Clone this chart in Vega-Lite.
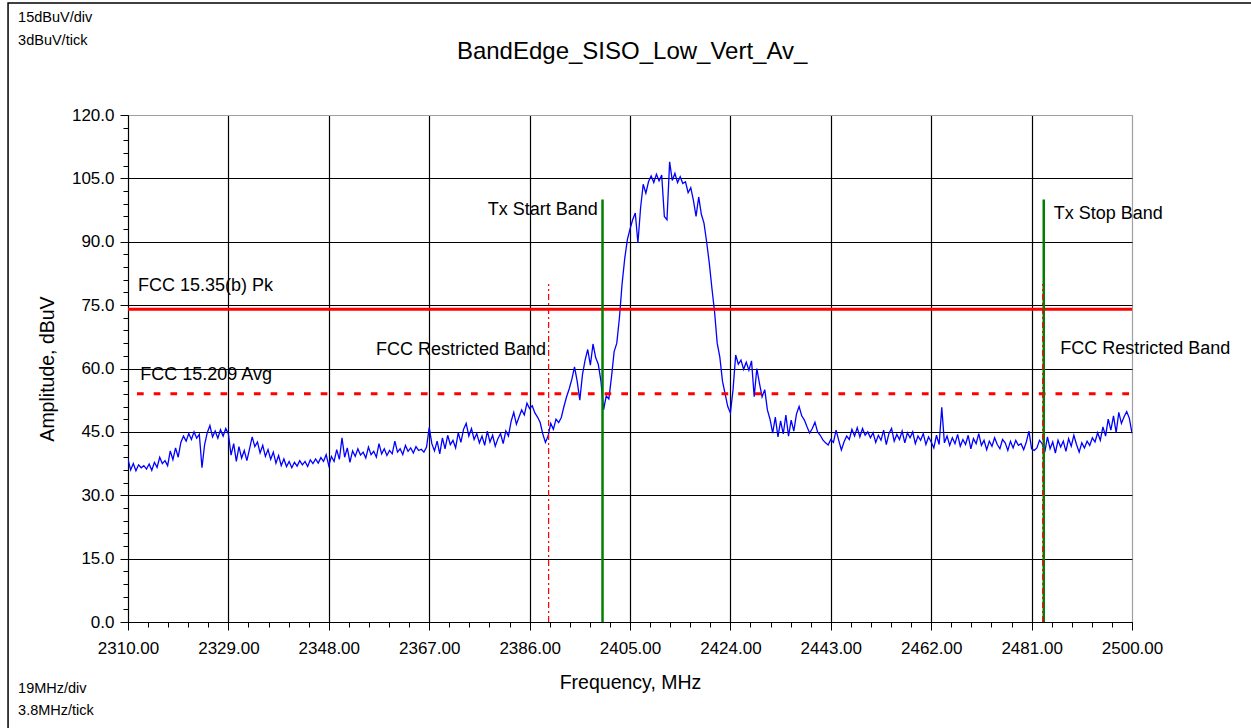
{
  "$schema": "https://vega.github.io/schema/vega-lite/v6.json",
  "width": 1004,
  "height": 507,
  "autosize": {"type": "none"},
  "padding": {"left": 128, "top": 115, "right": 119, "bottom": 106},
  "background": "white",
  "config": {
    "font": "Liberation Sans",
    "view": {"stroke": "#a0a0a0", "strokeWidth": 1}
  },
  "datasets": {
    "trace": [
      {"f":2310.0,"a":38.5},{"f":2310.5,"a":36.0},{"f":2311.0,"a":37.5},{"f":2311.5,"a":35.8},{"f":2312.0,"a":37.2},{"f":2312.5,"a":36.5},{"f":2313.0,"a":37.0},{"f":2313.5,"a":36.2},{"f":2314.0,"a":37.4},{"f":2314.5,"a":35.9},
      {"f":2315.0,"a":37.8},{"f":2315.5,"a":36.6},{"f":2316.0,"a":39.0},{"f":2316.5,"a":37.5},{"f":2317.0,"a":38.2},{"f":2317.5,"a":37.0},{"f":2318.0,"a":40.5},{"f":2318.5,"a":38.4},{"f":2319.0,"a":41.2},{"f":2319.5,"a":39.0},
      {"f":2320.0,"a":42.5},{"f":2320.5,"a":44.0},{"f":2321.0,"a":42.8},{"f":2321.5,"a":44.6},{"f":2322.0,"a":43.2},{"f":2322.5,"a":45.0},{"f":2323.0,"a":43.5},{"f":2323.5,"a":44.4},{"f":2324.0,"a":36.5},{"f":2324.5,"a":42.0},
      {"f":2325.0,"a":44.8},{"f":2325.5,"a":46.5},{"f":2326.0,"a":43.8},{"f":2326.5,"a":45.2},{"f":2327.0,"a":43.5},{"f":2327.5,"a":45.5},{"f":2328.0,"a":44.0},{"f":2328.5,"a":45.8},{"f":2329.0,"a":44.5},{"f":2329.5,"a":39.5},
      {"f":2330.0,"a":42.2},{"f":2330.5,"a":38.0},{"f":2331.0,"a":41.5},{"f":2331.5,"a":38.8},{"f":2332.0,"a":40.6},{"f":2332.5,"a":38.2},{"f":2333.0,"a":41.0},{"f":2333.5,"a":43.8},{"f":2334.0,"a":41.5},{"f":2334.5,"a":42.6},
      {"f":2335.0,"a":40.0},{"f":2335.5,"a":41.8},{"f":2336.0,"a":39.2},{"f":2336.5,"a":40.8},{"f":2337.0,"a":38.5},{"f":2337.5,"a":40.2},{"f":2338.0,"a":37.6},{"f":2338.5,"a":39.4},{"f":2339.0,"a":37.0},{"f":2339.5,"a":38.6},
      {"f":2340.0,"a":36.8},{"f":2340.5,"a":38.0},{"f":2341.0,"a":36.5},{"f":2341.5,"a":37.8},{"f":2342.0,"a":36.9},{"f":2342.5,"a":38.2},{"f":2343.0,"a":37.2},{"f":2343.5,"a":38.0},{"f":2344.0,"a":36.8},{"f":2344.5,"a":38.4},
      {"f":2345.0,"a":37.5},{"f":2345.5,"a":38.6},{"f":2346.0,"a":37.6},{"f":2346.5,"a":38.9},{"f":2347.0,"a":38.0},{"f":2347.5,"a":39.6},{"f":2348.0,"a":37.0},{"f":2348.5,"a":39.2},{"f":2349.0,"a":38.0},{"f":2349.5,"a":40.8},
      {"f":2350.0,"a":38.5},{"f":2350.5,"a":43.6},{"f":2351.0,"a":39.0},{"f":2351.5,"a":41.2},{"f":2352.0,"a":37.8},{"f":2352.5,"a":40.5},{"f":2353.0,"a":39.2},{"f":2353.5,"a":41.0},{"f":2354.0,"a":39.5},{"f":2354.5,"a":40.2},
      {"f":2355.0,"a":38.8},{"f":2355.5,"a":41.4},{"f":2356.0,"a":39.6},{"f":2356.5,"a":40.4},{"f":2357.0,"a":39.0},{"f":2357.5,"a":42.2},{"f":2358.0,"a":39.8},{"f":2358.5,"a":41.0},{"f":2359.0,"a":39.4},{"f":2359.5,"a":40.6},
      {"f":2360.0,"a":39.8},{"f":2360.5,"a":42.8},{"f":2361.0,"a":40.2},{"f":2361.5,"a":41.0},{"f":2362.0,"a":39.6},{"f":2362.5,"a":41.8},{"f":2363.0,"a":40.4},{"f":2363.5,"a":41.2},{"f":2364.0,"a":40.0},{"f":2364.5,"a":41.5},
      {"f":2365.0,"a":40.6},{"f":2365.5,"a":40.9},{"f":2366.0,"a":40.2},{"f":2366.5,"a":41.4},{"f":2367.0,"a":46.0},{"f":2367.5,"a":42.2},{"f":2368.0,"a":40.5},{"f":2368.5,"a":42.8},{"f":2369.0,"a":39.8},{"f":2369.5,"a":43.6},
      {"f":2370.0,"a":41.0},{"f":2370.5,"a":44.2},{"f":2371.0,"a":42.0},{"f":2371.5,"a":43.0},{"f":2372.0,"a":41.2},{"f":2372.5,"a":44.8},{"f":2373.0,"a":42.5},{"f":2373.5,"a":45.6},{"f":2374.0,"a":47.0},{"f":2374.5,"a":44.0},
      {"f":2375.0,"a":45.8},{"f":2375.5,"a":43.2},{"f":2376.0,"a":44.6},{"f":2376.5,"a":42.4},{"f":2377.0,"a":44.0},{"f":2377.5,"a":41.8},{"f":2378.0,"a":45.2},{"f":2378.5,"a":42.6},{"f":2379.0,"a":44.2},{"f":2379.5,"a":41.6},
      {"f":2380.0,"a":43.4},{"f":2380.5,"a":44.6},{"f":2381.0,"a":42.2},{"f":2381.5,"a":45.2},{"f":2382.0,"a":44.0},{"f":2382.5,"a":47.5},{"f":2383.0,"a":49.6},{"f":2383.5,"a":46.8},{"f":2384.0,"a":48.5},{"f":2384.5,"a":50.2},
      {"f":2385.0,"a":49.0},{"f":2385.5,"a":51.8},{"f":2386.0,"a":50.5},{"f":2386.5,"a":51.2},{"f":2387.0,"a":49.5},{"f":2387.5,"a":48.5},{"f":2388.0,"a":47.2},{"f":2388.5,"a":44.5},{"f":2389.0,"a":42.5},{"f":2389.5,"a":44.0},
      {"f":2390.0,"a":47.0},{"f":2390.5,"a":45.6},{"f":2391.0,"a":48.0},{"f":2391.5,"a":47.2},{"f":2392.0,"a":48.4},{"f":2392.5,"a":51.0},{"f":2393.0,"a":53.3},{"f":2393.5,"a":55.2},{"f":2394.0,"a":57.5},{"f":2394.5,"a":60.4},
      {"f":2395.0,"a":57.0},{"f":2395.5,"a":52.5},{"f":2396.0,"a":58.5},{"f":2396.5,"a":62.0},{"f":2397.0,"a":64.5},{"f":2397.5,"a":60.8},{"f":2398.0,"a":65.8},{"f":2398.5,"a":62.6},{"f":2399.0,"a":61.0},{"f":2399.5,"a":57.0},
      {"f":2400.0,"a":50.2},{"f":2400.5,"a":53.5},{"f":2401.0,"a":52.8},{"f":2401.5,"a":58.0},{"f":2402.0,"a":64.0},{"f":2402.5,"a":66.0},{"f":2403.0,"a":72.0},{"f":2403.5,"a":80.0},{"f":2404.0,"a":86.0},{"f":2404.5,"a":90.5},
      {"f":2405.0,"a":93.0},{"f":2405.5,"a":95.2},{"f":2406.0,"a":96.8},{"f":2406.5,"a":89.7},{"f":2407.0,"a":98.0},{"f":2407.5,"a":103.6},{"f":2408.0,"a":101.5},{"f":2408.5,"a":104.2},{"f":2409.0,"a":105.6},{"f":2409.5,"a":104.0},
      {"f":2410.0,"a":106.0},{"f":2410.5,"a":104.4},{"f":2411.0,"a":105.8},{"f":2411.5,"a":96.0},{"f":2412.0,"a":95.2},{"f":2412.5,"a":108.9},{"f":2413.0,"a":104.5},{"f":2413.5,"a":106.2},{"f":2414.0,"a":104.0},{"f":2414.5,"a":105.4},
      {"f":2415.0,"a":103.8},{"f":2415.5,"a":104.2},{"f":2416.0,"a":101.6},{"f":2416.5,"a":102.8},{"f":2417.0,"a":99.8},{"f":2417.5,"a":96.0},{"f":2418.0,"a":100.6},{"f":2418.5,"a":96.5},{"f":2419.0,"a":94.4},{"f":2419.5,"a":90.0},
      {"f":2420.0,"a":85.0},{"f":2420.5,"a":79.0},{"f":2421.0,"a":73.5},{"f":2421.5,"a":66.0},{"f":2422.0,"a":62.7},{"f":2422.5,"a":57.0},{"f":2423.0,"a":54.0},{"f":2423.5,"a":51.0},{"f":2424.0,"a":49.5},{"f":2424.5,"a":55.0},
      {"f":2425.0,"a":63.2},{"f":2425.5,"a":61.0},{"f":2426.0,"a":62.0},{"f":2426.5,"a":59.8},{"f":2427.0,"a":61.5},{"f":2427.5,"a":59.6},{"f":2428.0,"a":61.8},{"f":2428.5,"a":53.3},{"f":2429.0,"a":60.0},{"f":2429.5,"a":56.5},
      {"f":2430.0,"a":53.3},{"f":2430.5,"a":55.0},{"f":2431.0,"a":50.2},{"f":2431.5,"a":48.0},{"f":2432.0,"a":44.7},{"f":2432.5,"a":48.5},{"f":2433.0,"a":43.8},{"f":2433.5,"a":47.6},{"f":2434.0,"a":44.5},{"f":2434.5,"a":49.0},
      {"f":2435.0,"a":44.0},{"f":2435.5,"a":47.8},{"f":2436.0,"a":45.2},{"f":2436.5,"a":49.2},{"f":2437.0,"a":51.0},{"f":2437.5,"a":48.8},{"f":2438.0,"a":47.8},{"f":2438.5,"a":46.2},{"f":2439.0,"a":44.7},{"f":2439.5,"a":45.8},
      {"f":2440.0,"a":47.3},{"f":2440.5,"a":45.0},{"f":2441.0,"a":44.2},{"f":2441.5,"a":43.1},{"f":2442.0,"a":42.4},{"f":2442.5,"a":41.9},{"f":2443.0,"a":43.2},{"f":2443.5,"a":42.5},{"f":2444.0,"a":45.4},{"f":2444.5,"a":43.0},
      {"f":2445.0,"a":40.7},{"f":2445.5,"a":42.6},{"f":2446.0,"a":44.0},{"f":2446.5,"a":43.2},{"f":2447.0,"a":45.6},{"f":2447.5,"a":44.0},{"f":2448.0,"a":46.0},{"f":2448.5,"a":43.8},{"f":2449.0,"a":45.8},{"f":2449.5,"a":44.2},
      {"f":2450.0,"a":45.0},{"f":2450.5,"a":43.6},{"f":2451.0,"a":44.8},{"f":2451.5,"a":42.5},{"f":2452.0,"a":44.2},{"f":2452.5,"a":43.0},{"f":2453.0,"a":45.4},{"f":2453.5,"a":42.0},{"f":2454.0,"a":44.6},{"f":2454.5,"a":45.8},
      {"f":2455.0,"a":42.8},{"f":2455.5,"a":44.4},{"f":2456.0,"a":43.2},{"f":2456.5,"a":45.2},{"f":2457.0,"a":42.4},{"f":2457.5,"a":44.8},{"f":2458.0,"a":43.6},{"f":2458.5,"a":45.0},{"f":2459.0,"a":42.2},{"f":2459.5,"a":44.0},
      {"f":2460.0,"a":43.0},{"f":2460.5,"a":44.6},{"f":2461.0,"a":42.0},{"f":2461.5,"a":43.8},{"f":2462.0,"a":42.6},{"f":2462.5,"a":41.2},{"f":2463.0,"a":44.2},{"f":2463.5,"a":42.0},{"f":2464.0,"a":50.8},{"f":2464.5,"a":42.4},
      {"f":2465.0,"a":44.0},{"f":2465.5,"a":41.8},{"f":2466.0,"a":43.6},{"f":2466.5,"a":42.2},{"f":2467.0,"a":44.4},{"f":2467.5,"a":41.6},{"f":2468.0,"a":43.2},{"f":2468.5,"a":42.0},{"f":2469.0,"a":44.2},{"f":2469.5,"a":41.0},
      {"f":2470.0,"a":43.4},{"f":2470.5,"a":42.2},{"f":2471.0,"a":44.6},{"f":2471.5,"a":41.8},{"f":2472.0,"a":43.0},{"f":2472.5,"a":40.8},{"f":2473.0,"a":42.8},{"f":2473.5,"a":41.6},{"f":2474.0,"a":43.6},{"f":2474.5,"a":42.0},
      {"f":2475.0,"a":41.0},{"f":2475.5,"a":43.2},{"f":2476.0,"a":42.4},{"f":2476.5,"a":40.6},{"f":2477.0,"a":42.8},{"f":2477.5,"a":41.2},{"f":2478.0,"a":43.0},{"f":2478.5,"a":41.8},{"f":2479.0,"a":42.2},{"f":2479.5,"a":40.8},
      {"f":2480.0,"a":42.6},{"f":2480.5,"a":45.2},{"f":2481.0,"a":41.0},{"f":2481.5,"a":40.6},{"f":2482.0,"a":41.2},{"f":2482.5,"a":43.0},{"f":2483.0,"a":42.2},{"f":2483.5,"a":40.2},{"f":2484.0,"a":43.8},{"f":2484.5,"a":41.0},
      {"f":2485.0,"a":42.6},{"f":2485.5,"a":40.0},{"f":2486.0,"a":43.0},{"f":2486.5,"a":41.4},{"f":2487.0,"a":42.8},{"f":2487.5,"a":40.4},{"f":2488.0,"a":43.4},{"f":2488.5,"a":41.6},{"f":2489.0,"a":44.2},{"f":2489.5,"a":42.0},
      {"f":2490.0,"a":40.2},{"f":2490.5,"a":42.4},{"f":2491.0,"a":41.2},{"f":2491.5,"a":42.8},{"f":2492.0,"a":41.8},{"f":2492.5,"a":43.6},{"f":2493.0,"a":42.6},{"f":2493.5,"a":44.8},{"f":2494.0,"a":43.0},{"f":2494.5,"a":46.2},
      {"f":2495.0,"a":44.0},{"f":2495.5,"a":48.0},{"f":2496.0,"a":45.4},{"f":2496.5,"a":48.8},{"f":2497.0,"a":44.8},{"f":2497.5,"a":49.6},{"f":2498.0,"a":47.0},{"f":2498.5,"a":48.6},{"f":2499.0,"a":49.8},{"f":2499.5,"a":48.2},
      {"f":2500.0,"a":44.7}
    ]
  },
  "resolve": {"axis": {"x": "independent", "y": "independent"}},
  "layer": [
    {
      "data": {"name": "trace"},
      "mark": {"type": "line", "color": "#0000ff", "strokeWidth": 1.3, "clip": true},
      "encoding": {
        "x": {
          "field": "f", "type": "quantitative",
          "scale": {"domain": [2310, 2500], "nice": false, "zero": false},
          "axis": {
            "values": [2310, 2329, 2348, 2367, 2386, 2405, 2424, 2443, 2462, 2481, 2500],
            "format": ".2f",
            "labelFont": "Liberation Sans", "labelFontSize": 17, "labelColor": "black",
            "labelFlush": false, "labelOverlap": false, "labelPadding": 10,
            "tickSize": 8, "tickColor": "black", "tickWidth": 1,
            "domainColor": "black", "domainWidth": 1,
            "grid": true,
            "gridColor": {"condition": {"test": "datum.value === 2500", "value": "#a0a0a0"}, "value": "black"},
            "gridOpacity": 1, "gridWidth": 1.2,
            "title": "Frequency, MHz",
            "titleFont": "Liberation Sans", "titleFontSize": 19.5, "titleFontWeight": "normal", "titleColor": "black",
            "titlePadding": 17
          }
        },
        "y": {
          "field": "a", "type": "quantitative",
          "scale": {"domain": [0, 120], "nice": false, "zero": false},
          "axis": {
            "values": [0, 15, 30, 45, 60, 75, 90, 105, 120],
            "format": ".1f",
            "labelFont": "Liberation Sans", "labelFontSize": 17, "labelColor": "black",
            "labelFlush": false, "labelOverlap": false, "labelPadding": 6,
            "tickSize": 8, "tickColor": "black", "tickWidth": 1,
            "domainColor": "black", "domainWidth": 1,
            "grid": true,
            "gridColor": {"condition": {"test": "datum.value === 120", "value": "#a0a0a0"}, "value": "black"},
            "gridOpacity": 1, "gridWidth": 1.2,
            "title": "Amplitude, dBuV",
            "titleFont": "Liberation Sans", "titleFontSize": 19.5, "titleFontWeight": "normal", "titleColor": "black",
            "titlePadding": 14
          }
        }
      }
    },
    {
      "data": {"values": [{"x1": 2310, "x2": 2500, "y1": 74, "y2": 74}]},
      "mark": {"type": "rule", "color": "#ff0000", "strokeWidth": 3},
      "encoding": {
        "x": {
          "field": "x1", "type": "quantitative",
          "scale": {"domain": [2310, 2500], "nice": false, "zero": false},
          "axis": {
            "orient": "bottom",
            "values": [2313.8, 2317.6, 2321.4, 2325.2, 2332.8, 2336.6, 2340.4, 2344.2, 2351.8, 2355.6, 2359.4, 2363.2, 2370.8, 2374.6, 2378.4, 2382.2, 2389.8, 2393.6, 2397.4, 2401.2, 2408.8, 2412.6, 2416.4, 2420.2, 2427.8, 2431.6, 2435.4, 2439.2, 2446.8, 2450.6, 2454.4, 2458.2, 2465.8, 2469.6, 2473.4, 2477.2, 2484.8, 2488.6, 2492.4, 2496.2],
            "labels": false, "grid": false, "domain": false, "title": null,
            "tickSize": 5, "tickColor": "black", "tickWidth": 1
          }
        },
        "x2": {"field": "x2"},
        "y": {
          "field": "y1", "type": "quantitative",
          "scale": {"domain": [0, 120], "nice": false, "zero": false},
          "axis": {
            "orient": "left",
            "values": [3, 6, 9, 12, 18, 21, 24, 27, 33, 36, 39, 42, 48, 51, 54, 57, 63, 66, 69, 72, 78, 81, 84, 87, 93, 96, 99, 102, 108, 111, 114, 117],
            "labels": false, "grid": false, "domain": false, "title": null,
            "tickSize": 5, "tickColor": "black", "tickWidth": 1
          }
        },
        "y2": {"field": "y2"}
      }
    },
    {
      "data": {"values": [{"x1": 2310, "x2": 2500, "y1": 54, "y2": 54}]},
      "mark": {"type": "rule", "color": "#ff0000", "strokeWidth": 3, "strokeDash": [6.7, 10], "strokeDashOffset": 7.7},
      "encoding": {
        "x": {"field": "x1", "type": "quantitative", "scale": {"domain": [2310, 2500], "nice": false, "zero": false}, "axis": null},
        "x2": {"field": "x2"},
        "y": {"field": "y1", "type": "quantitative", "scale": {"domain": [0, 120], "nice": false, "zero": false}, "axis": null},
        "y2": {"field": "y2"}
      }
    },
    {
      "data": {"values": [{"f": 2399.8, "lo": 0, "hi": 100}, {"f": 2483.3, "lo": 0, "hi": 100}]},
      "mark": {"type": "rule", "color": "#008000", "strokeWidth": 2.5},
      "encoding": {
        "x": {"field": "f", "type": "quantitative", "scale": {"domain": [2310, 2500], "nice": false, "zero": false}, "axis": null},
        "y": {"field": "lo", "type": "quantitative", "scale": {"domain": [0, 120], "nice": false, "zero": false}, "axis": null},
        "y2": {"field": "hi"}
      }
    },
    {
      "data": {"values": [{"f": 2389.6, "lo": 0, "hi": 80}, {"f": 2483.1, "lo": 0, "hi": 80}]},
      "mark": {"type": "rule", "color": "#ff0000", "strokeWidth": 1.2, "strokeDash": [6, 3, 2, 3]},
      "encoding": {
        "x": {"field": "f", "type": "quantitative", "scale": {"domain": [2310, 2500], "nice": false, "zero": false}, "axis": null},
        "y": {"field": "lo", "type": "quantitative", "scale": {"domain": [0, 120], "nice": false, "zero": false}, "axis": null},
        "y2": {"field": "hi"}
      }
    },
    {
      "data": {"values": [
        {"t": "FCC 15.35(b) Pk", "f": 2311.9, "a": 79.5},
        {"t": "FCC 15.209 Avg", "f": 2312.3, "a": 58.5},
        {"t": "FCC Restricted Band", "f": 2486.4, "a": 64.6},
        {"t": "Tx Stop Band", "f": 2485.2, "a": 96.6}
      ]},
      "mark": {"type": "text", "align": "left", "baseline": "middle", "font": "Liberation Sans", "fontSize": 18, "color": "black"},
      "encoding": {
        "x": {"field": "f", "type": "quantitative", "scale": {"domain": [2310, 2500], "nice": false, "zero": false}, "axis": null},
        "y": {"field": "a", "type": "quantitative", "scale": {"domain": [0, 120], "nice": false, "zero": false}, "axis": null},
        "text": {"field": "t"}
      }
    },
    {
      "data": {"values": [
        {"t": "FCC Restricted Band", "f": 2389.1, "a": 64.4},
        {"t": "Tx Start Band", "f": 2398.9, "a": 97.5}
      ]},
      "mark": {"type": "text", "align": "right", "baseline": "middle", "font": "Liberation Sans", "fontSize": 18, "color": "black"},
      "encoding": {
        "x": {"field": "f", "type": "quantitative", "scale": {"domain": [2310, 2500], "nice": false, "zero": false}, "axis": null},
        "y": {"field": "a", "type": "quantitative", "scale": {"domain": [0, 120], "nice": false, "zero": false}, "axis": null},
        "text": {"field": "t"}
      }
    },
    {
      "data": {"values": [{"t": "BandEdge_SISO_Low_Vert_Av_", "f": 2405.4, "a": 134.9}]},
      "mark": {"type": "text", "align": "center", "baseline": "middle", "font": "Liberation Sans", "fontSize": 24, "color": "black"},
      "encoding": {
        "x": {"field": "f", "type": "quantitative", "scale": {"domain": [2310, 2500], "nice": false, "zero": false}, "axis": null},
        "y": {"field": "a", "type": "quantitative", "scale": {"domain": [0, 120], "nice": false, "zero": false}, "axis": null},
        "text": {"field": "t"}
      }
    },
    {
      "data": {"values": [
        {"t": "15dBuV/div", "f": 2289.2, "a": 143.0},
        {"t": "3dBuV/tick", "f": 2289.2, "a": 137.6},
        {"t": "19MHz/div", "f": 2289.2, "a": -15.9},
        {"t": "3.8MHz/tick", "f": 2289.2, "a": -21.1}
      ]},
      "mark": {"type": "text", "align": "left", "baseline": "middle", "font": "Liberation Sans", "fontSize": 14.5, "color": "black"},
      "encoding": {
        "x": {"field": "f", "type": "quantitative", "scale": {"domain": [2310, 2500], "nice": false, "zero": false}, "axis": null},
        "y": {"field": "a", "type": "quantitative", "scale": {"domain": [0, 120], "nice": false, "zero": false}, "axis": null},
        "text": {"field": "t"}
      }
    },
    {
      "data": {"values": [{"x1": 2287.3, "x2": 2524, "y1": -27, "y2": 146.5}]},
      "mark": {"type": "rect", "filled": false, "stroke": "black", "strokeWidth": 1.5},
      "encoding": {
        "x": {"field": "x1", "type": "quantitative", "scale": {"domain": [2310, 2500], "nice": false, "zero": false}, "axis": null},
        "x2": {"field": "x2"},
        "y": {"field": "y1", "type": "quantitative", "scale": {"domain": [0, 120], "nice": false, "zero": false}, "axis": null},
        "y2": {"field": "y2"}
      }
    }
  ]
}
